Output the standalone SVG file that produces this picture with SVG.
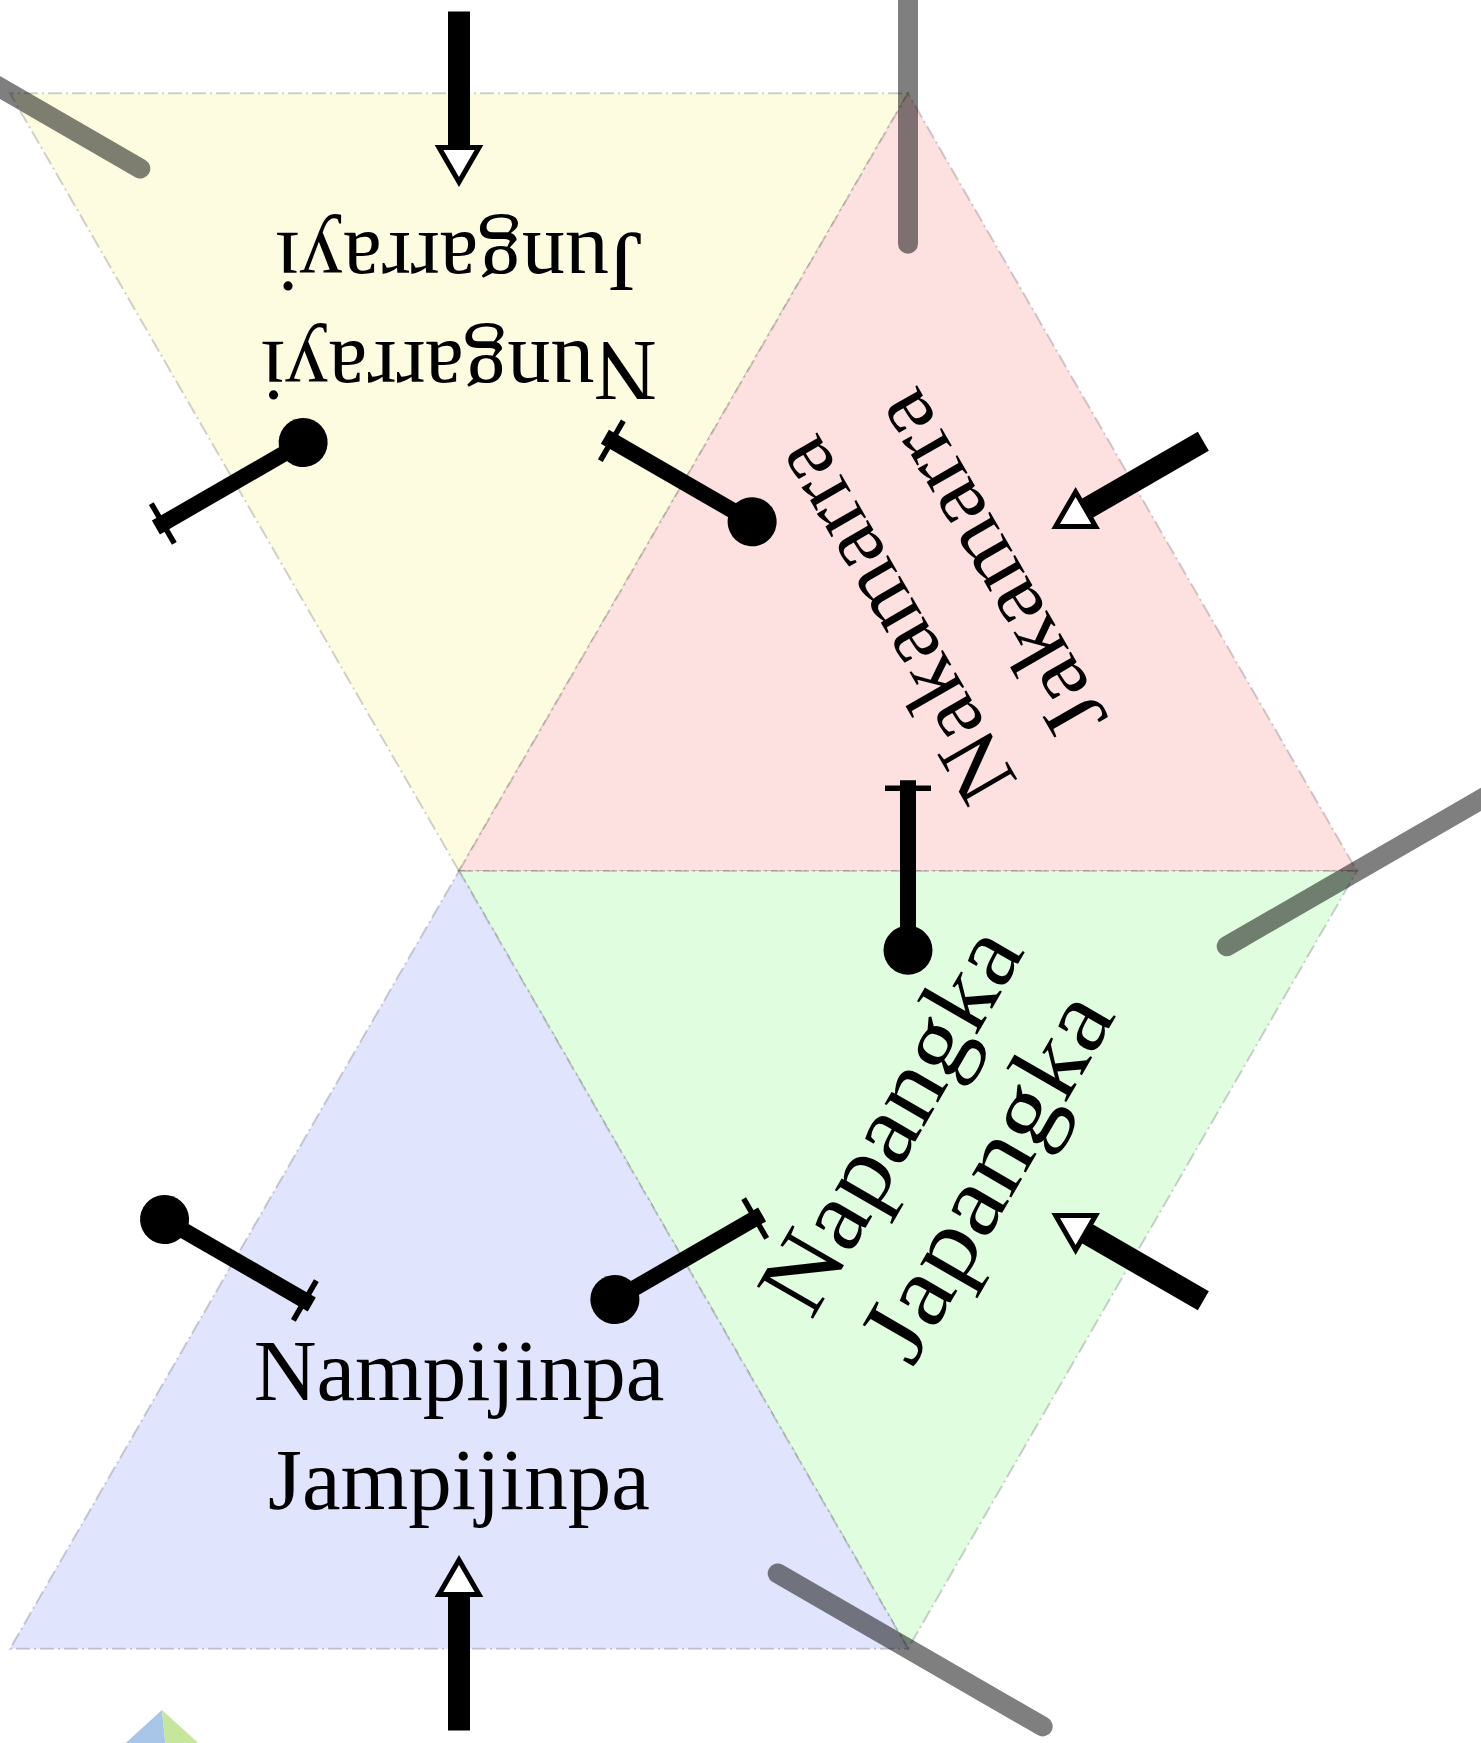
<svg xmlns="http://www.w3.org/2000/svg" width="1481" height="1743" viewBox="0 0 1481 1743">
  <style>
    .tri { stroke: #000; stroke-opacity: 0.18; stroke-width: 2; stroke-dasharray: 14 4 2 4; }
    .lbl { font-family: "Liberation Serif", "DejaVu Serif", serif; font-size: 87px; text-anchor: middle; fill: #000; }
    .spoke { stroke: #000; stroke-opacity: 0.5; stroke-width: 20; stroke-linecap: round; fill: none; }
    .shaft { stroke: #000; stroke-width: 22; stroke-linecap: butt; fill: none; }
    .head { fill: #fff; stroke: #000; stroke-width: 5; stroke-linejoin: miter; }
    .stem { stroke: #000; stroke-width: 16; stroke-linecap: butt; fill: none; }
    .tick { stroke: #000; stroke-width: 5.5; fill: none; }
  </style>
  <defs>
    <polygon id="tri" points="0,-518.46 449,259.23 -449,259.23"/>
    <g id="arrow">
      <line class="shaft" x1="0" y1="341" x2="0" y2="204"/>
      <polygon class="head" points="0,170.5 20,205.1 -20,205.1"/>
    </g>
    <line id="spoke" class="spoke" x1="318.7" y1="184" x2="583.7" y2="337"/>
    <g id="lolli">
      <line class="stem" x1="0" y1="0" x2="170" y2="0"/>
      <circle cx="0" cy="0" r="24.5" fill="#000"/>
      <line class="tick" x1="162" y1="-23" x2="162" y2="23"/>
    </g>
  </defs>

  <g id="node-nungarrayi" transform="translate(459,352.54) rotate(180)">
    <use href="#tri" class="tri" fill="#fdfce0"/>
    <text class="lbl" x="0" y="11">Nungarrayi</text>
    <text class="lbl" x="0" y="120">Jungarrayi</text>
  </g>
  <g id="node-nakamarra" transform="translate(908,611.77) rotate(240)">
    <use href="#tri" class="tri" fill="#fde0e0"/>
    <text class="lbl" x="0" y="11" textLength="404" lengthAdjust="spacingAndGlyphs">Nakamarra</text>
    <text class="lbl" x="0" y="121" textLength="386" lengthAdjust="spacingAndGlyphs">Jakamarra</text>
  </g>
  <g id="node-napangka" transform="translate(908,1130.23) rotate(300)">
    <use href="#tri" class="tri" fill="#e0fde0"/>
    <text class="lbl" x="0" y="12" style="font-size:99px" textLength="428" lengthAdjust="spacingAndGlyphs">Napangka</text>
    <text class="lbl" x="0" y="123" style="font-size:99px" textLength="408" lengthAdjust="spacingAndGlyphs">Japangka</text>
  </g>
  <g id="node-nampijinpa" transform="translate(459,1389.46)">
    <use href="#tri" class="tri" fill="#e0e5fd"/>
    <text class="lbl" x="0" y="11">Nampijinpa</text>
    <text class="lbl" x="0" y="120">Jampijinpa</text>
  </g>

  <g id="pyramid">
    <polygon points="162,1710 166,1750 118,1750" fill="#a8c6e8"/>
    <polygon points="162,1710 206,1750 166,1750" fill="#c6e69c"/>
  </g>

  <g id="connectors">
    <g transform="translate(459,352.54) rotate(180)"><use href="#arrow"/><use href="#spoke"/></g>
    <g transform="translate(908,611.77) rotate(240)"><use href="#arrow"/><use href="#spoke"/></g>
    <g transform="translate(908,1130.23) rotate(300)"><use href="#arrow"/><use href="#spoke"/></g>
    <g transform="translate(459,1389.46)"><use href="#arrow"/><use href="#spoke"/></g>
    <use href="#lolli" transform="translate(303.12,442.54) rotate(150)"/>
    <use href="#lolli" transform="translate(752.12,521.77) rotate(210)"/>
    <use href="#lolli" transform="translate(908,950.23) rotate(270)"/>
    <use href="#lolli" transform="translate(614.88,1299.46) rotate(-30)"/>
    <use href="#lolli" transform="translate(164.55,1219.46) rotate(30)"/>
  </g>
</svg>
